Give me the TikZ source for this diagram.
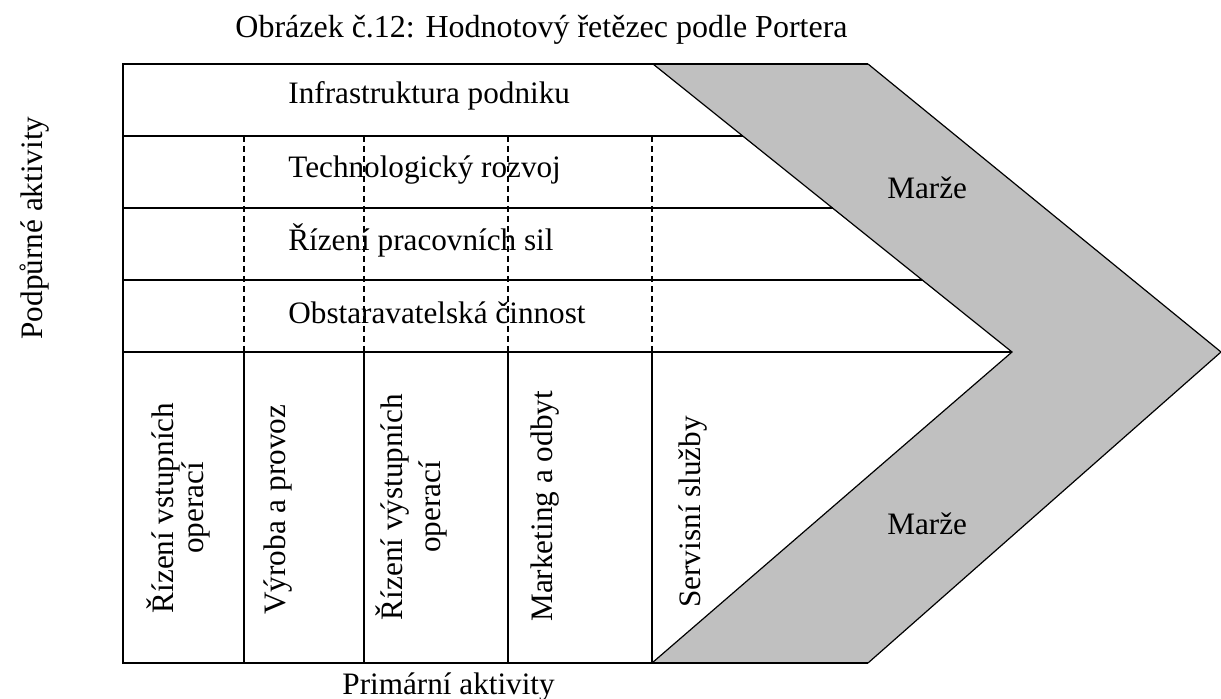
\documentclass[tikz,border=0pt]{standalone}
\usepackage{fontspec}
\setmainfont{Liberation Serif}
\definecolor{marzegray}{RGB}{192,192,192}
\begin{document}
\begin{tikzpicture}[x=0.5pt,y=-0.5pt,
  frame/.style={line width=0.8pt},
  dashline/.style={line width=0.6pt, dash pattern=on 3pt off 2pt},
  chev/.style={line width=0.6pt},
  lbl/.style={inner sep=0pt, font=\fontsize{15.6}{18}\selectfont},
  ttl/.style={inner sep=0pt, font=\fontsize{16}{18}\selectfont},
  vlbl/.style={lbl, rotate=90}]
\useasboundingbox (0,0) rectangle (1221,699);
% chevron (margin)
\coordinate (ci1) at (653,64);
\coordinate (co1) at (868,64);
\coordinate (tipo) at (1221,352);
\coordinate (co2) at (868,663);
\coordinate (ci2) at (652,663);
\coordinate (tipi) at (1012,352);
\fill[marzegray] (ci1) -- (co1) -- (tipo) -- (co2) -- (ci2) -- (tipi) -- cycle;
\draw[chev] (ci1) -- (tipi) -- (ci2);
\draw[chev] (co1) -- (tipo) -- (co2);
% frame
\draw[frame] (co1) -- (123,64) -- (123,663) -- (co2);
\draw[frame] (123,136) -- (742.7,136);
\draw[frame] (123,208) -- (832.5,208);
\draw[frame] (123,280) -- (922.2,280);
\draw[frame] (123,352) -- (tipi);
\foreach \x in {244,364,508,652} {
  \draw[frame] (\x,352) -- (\x,663);
  \draw[dashline] (\x,136) -- (\x,352);
}
% texts
\node[ttl, anchor=base east] (title) at (848,38) {Obrázek č.12: Hodnotový řetězec podle Portera};
\node[lbl, anchor=base west] (infra) at (288,104) {Infrastruktura podniku};
\node[lbl, anchor=base west] (tech) at (288,178) {Technologický rozvoj};
\node[lbl, anchor=base west] (hr) at (288,251) {Řízení pracovních sil};
\node[lbl, anchor=base west] (proc) at (288,324) {Obstaravatelská činnost};
\node[lbl, anchor=base west] (m1) at (887,199) {Marže};
\node[lbl, anchor=base west] (m2) at (887,535) {Marže};
\node[vlbl, anchor=base] (in1) at (173,508) {Řízení vstupních};
\node[vlbl, anchor=base] (in2) at (203,508) {operací};
\node[vlbl, anchor=base west] (ops) at (285,615) {Výroba a provoz};
\node[vlbl, anchor=base] (out1) at (402,507) {Řízení výstupních};
\node[vlbl, anchor=base] (out2) at (440,507) {operací};
\node[vlbl, anchor=base west] (mkt) at (552,622) {Marketing a odbyt};
\node[vlbl, anchor=base west] (serv) at (700,608) {Servisní služby};
\node[vlbl, anchor=base] (podp) at (42,228) {Podpůrné aktivity};
\node[lbl, anchor=base west] (prim) at (342,695) {Primární aktivity};
\end{tikzpicture}
\end{document}
